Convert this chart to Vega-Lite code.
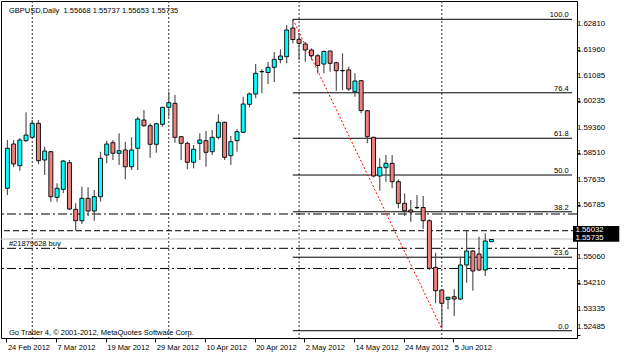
{
  "$schema": "https://vega.github.io/schema/vega-lite/v6.json",
  "width": 576,
  "height": 337,
  "autosize": "none",
  "padding": {"left": 1, "top": 1, "right": 48, "bottom": 15},
  "background": "white",
  "config": {
    "view": {"stroke": "black", "strokeWidth": 1},
    "axis": {"labelFont": "Liberation Sans", "labelFontSize": 7.5, "labelColor": "black", "tickColor": "black", "domain": false, "grid": false, "title": null, "labelOverlap": false, "labelBound": false, "labelFlush": false},
    "text": {"font": "Liberation Sans", "fontSize": 7.5, "color": "black"}
  },
  "datasets": {
    "candles": [
      {"i":0,"o":1.57347,"h":1.58953,"l":1.57124,"c":1.58677},
      {"i":1,"o":1.58820,"h":1.58953,"l":1.58045,"c":1.58155},
      {"i":2,"o":1.58099,"h":1.59010,"l":1.57932,"c":1.58953},
      {"i":3,"o":1.58930,"h":1.59874,"l":1.58897,"c":1.59119},
      {"i":4,"o":1.59043,"h":1.59618,"l":1.59020,"c":1.59508},
      {"i":5,"o":1.59508,"h":1.59618,"l":1.58155,"c":1.58265},
      {"i":6,"o":1.58288,"h":1.58730,"l":1.57789,"c":1.58587},
      {"i":7,"o":1.58564,"h":1.58587,"l":1.56902,"c":1.57068},
      {"i":8,"o":1.57048,"h":1.57513,"l":1.56902,"c":1.57347},
      {"i":9,"o":1.57314,"h":1.58288,"l":1.57181,"c":1.58255},
      {"i":10,"o":1.58198,"h":1.58288,"l":1.56626,"c":1.56659},
      {"i":11,"o":1.56649,"h":1.56848,"l":1.55937,"c":1.56270},
      {"i":12,"o":1.56270,"h":1.57400,"l":1.56160,"c":1.57015},
      {"i":13,"o":1.57015,"h":1.57380,"l":1.56426,"c":1.56592},
      {"i":14,"o":1.56592,"h":1.57291,"l":1.56270,"c":1.57068},
      {"i":15,"o":1.57068,"h":1.58564,"l":1.56902,"c":1.58345},
      {"i":16,"o":1.58454,"h":1.58930,"l":1.58178,"c":1.58820},
      {"i":17,"o":1.58863,"h":1.58953,"l":1.58288,"c":1.58511},
      {"i":18,"o":1.58511,"h":1.59176,"l":1.58122,"c":1.58597},
      {"i":19,"o":1.58621,"h":1.58897,"l":1.57646,"c":1.58065},
      {"i":20,"o":1.58065,"h":1.59043,"l":1.57956,"c":1.58621},
      {"i":21,"o":1.58677,"h":1.59728,"l":1.57956,"c":1.59651},
      {"i":22,"o":1.59618,"h":1.59951,"l":1.59395,"c":1.59429},
      {"i":23,"o":1.59429,"h":1.59508,"l":1.58365,"c":1.58810},
      {"i":24,"o":1.58810,"h":1.59528,"l":1.58531,"c":1.59495},
      {"i":25,"o":1.59475,"h":1.60060,"l":1.59395,"c":1.60040},
      {"i":26,"o":1.60040,"h":1.60559,"l":1.59728,"c":1.60193},
      {"i":27,"o":1.60173,"h":1.60449,"l":1.58863,"c":1.59043},
      {"i":28,"o":1.59063,"h":1.59086,"l":1.58288,"c":1.58843},
      {"i":29,"o":1.58843,"h":1.58897,"l":1.57979,"c":1.58212},
      {"i":30,"o":1.58212,"h":1.58787,"l":1.58012,"c":1.58644},
      {"i":31,"o":1.58843,"h":1.59176,"l":1.58288,"c":1.58953},
      {"i":32,"o":1.58930,"h":1.59252,"l":1.58065,"c":1.58544},
      {"i":33,"o":1.58564,"h":1.59286,"l":1.58454,"c":1.59043},
      {"i":34,"o":1.59043,"h":1.59808,"l":1.58976,"c":1.59542},
      {"i":35,"o":1.59542,"h":1.59562,"l":1.58288,"c":1.58378},
      {"i":36,"o":1.58431,"h":1.59086,"l":1.58122,"c":1.58897},
      {"i":37,"o":1.58930,"h":1.59309,"l":1.58564,"c":1.59229},
      {"i":38,"o":1.59209,"h":1.60393,"l":1.59196,"c":1.60150},
      {"i":39,"o":1.60140,"h":1.60539,"l":1.60040,"c":1.60483},
      {"i":40,"o":1.60483,"h":1.61480,"l":1.60340,"c":1.61171},
      {"i":41,"o":1.61224,"h":1.61304,"l":1.60506,"c":1.61228},
      {"i":42,"o":1.61197,"h":1.61547,"l":1.60815,"c":1.61370},
      {"i":43,"o":1.61370,"h":1.61879,"l":1.60882,"c":1.61636},
      {"i":44,"o":1.61630,"h":1.61969,"l":1.61503,"c":1.61746},
      {"i":45,"o":1.61723,"h":1.62777,"l":1.61503,"c":1.62611},
      {"i":46,"o":1.62677,"h":1.62966,"l":1.62168,"c":1.62295},
      {"i":47,"o":1.62301,"h":1.62501,"l":1.61613,"c":1.62168},
      {"i":48,"o":1.62145,"h":1.62212,"l":1.61557,"c":1.61946},
      {"i":49,"o":1.61946,"h":1.62002,"l":1.61613,"c":1.61756},
      {"i":50,"o":1.61756,"h":1.61803,"l":1.61171,"c":1.61430},
      {"i":51,"o":1.61480,"h":1.61929,"l":1.61171,"c":1.61896},
      {"i":52,"o":1.61912,"h":1.61922,"l":1.61224,"c":1.61503},
      {"i":53,"o":1.61523,"h":1.61557,"l":1.60592,"c":1.61257},
      {"i":54,"o":1.61257,"h":1.61836,"l":1.60616,"c":1.61261},
      {"i":55,"o":1.61281,"h":1.61390,"l":1.60592,"c":1.60649},
      {"i":56,"o":1.60559,"h":1.61171,"l":1.60393,"c":1.60915},
      {"i":57,"o":1.60925,"h":1.60948,"l":1.59841,"c":1.59934},
      {"i":58,"o":1.59927,"h":1.59951,"l":1.58843,"c":1.59063},
      {"i":59,"o":1.59043,"h":1.59063,"l":1.57713,"c":1.57756},
      {"i":60,"o":1.57756,"h":1.58345,"l":1.57267,"c":1.58045},
      {"i":61,"o":1.58032,"h":1.58454,"l":1.57567,"c":1.58178},
      {"i":62,"o":1.58178,"h":1.58454,"l":1.57347,"c":1.57567},
      {"i":63,"o":1.57567,"h":1.57646,"l":1.56682,"c":1.56848},
      {"i":64,"o":1.56848,"h":1.57181,"l":1.56426,"c":1.56602},
      {"i":65,"o":1.56626,"h":1.56958,"l":1.56237,"c":1.56559},
      {"i":66,"o":1.56702,"h":1.57124,"l":1.56659,"c":1.56706},
      {"i":67,"o":1.56709,"h":1.57091,"l":1.55994,"c":1.56270},
      {"i":68,"o":1.56270,"h":1.56316,"l":1.54631,"c":1.54687},
      {"i":69,"o":1.54720,"h":1.55206,"l":1.53523,"c":1.53942},
      {"i":70,"o":1.53966,"h":1.53989,"l":1.52692,"c":1.53523},
      {"i":71,"o":1.53656,"h":1.53743,"l":1.53324,"c":1.53723},
      {"i":72,"o":1.53743,"h":1.53989,"l":1.53101,"c":1.53666},
      {"i":73,"o":1.53666,"h":1.55073,"l":1.53633,"c":1.54797},
      {"i":74,"o":1.54797,"h":1.55937,"l":1.54208,"c":1.55262},
      {"i":75,"o":1.55262,"h":1.55296,"l":1.53942,"c":1.54597},
      {"i":76,"o":1.55163,"h":1.55738,"l":1.54607,"c":1.54631},
      {"i":77,"o":1.54631,"h":1.55851,"l":1.54431,"c":1.55595},
      {"i":78,"o":1.55572,"h":1.55661,"l":1.55572,"c":1.55645}
    ],
    "fib": [
      {"level":"100.0","p":1.62966},
      {"level":"76.4","p":1.60523},
      {"level":"61.8","p":1.59011},
      {"level":"50.0","p":1.57789},
      {"level":"38.2","p":1.56567},
      {"level":"23.6","p":1.55056},
      {"level":"0.0","p":1.52612}
    ],
    "hlines": [
      {"p":1.55661,"kind":"bid"},
      {"p":1.56493,"kind":"dashdot"},
      {"p":1.55937,"kind":"dash"},
      {"p":1.55352,"kind":"dashdot"},
      {"p":1.54680,"kind":"dashdot"}
    ],
    "yticks": [
      {"v":1.62810,"t":"1.62810"},
      {"v":1.61960,"t":"1.61960"},
      {"v":1.61085,"t":"1.61085"},
      {"v":1.60235,"t":"1.60235"},
      {"v":1.59360,"t":"1.59360"},
      {"v":1.58510,"t":"1.58510"},
      {"v":1.57635,"t":"1.57635"},
      {"v":1.56785,"t":"1.56785"},
      {"v":1.55060,"t":"1.55060"},
      {"v":1.54210,"t":"1.54210"},
      {"v":1.53335,"t":"1.53335"}
    ],
    "ylast": [{"v":1.52485,"t":"1.52485"}],
    "seps": [{"i":4},{"i":26},{"i":47},{"i":70}],
    "trend": [{"i":46,"p":1.62966},{"i":70,"p":1.52669}],
    "one": [{}]
  },
  "layer": [
    {
      "data": {"name": "seps"},
      "mark": {"type": "rule", "color": "#333333", "strokeDash": [2, 2], "strokeWidth": 1},
      "encoding": {
        "x": {"field": "i", "type": "quantitative", "scale": {"domain": [-0.228, 90.98], "nice": false, "zero": false},
          "axis": {"orient": "bottom", "values": [0, 8, 16, 24, 32, 40, 48, 56, 64, 72],
            "labelExpr": "['24 Feb 2012','7 Mar 2012','19 Mar 2012','29 Mar 2012','10 Apr 2012','20 Apr 2012','2 May 2012','14 May 2012','24 May 2012','5 Jun 2012'][round(datum.value/8)]",
            "labelAlign": "left", "labelBaseline": "top", "labelPadding": 1, "labelOffset": 1, "tickSize": 4, "tickOffset": -1, "labelOverlap": false}}
      }
    },
    {
      "data": {"name": "hlines"},
      "mark": {"type": "rule", "strokeWidth": 1},
      "encoding": {
        "y": {"field": "p", "type": "quantitative", "scale": {"domain": [1.52370, 1.63575], "nice": false, "zero": false},
          "axis": {"orient": "right", "values": [1.62810, 1.61960, 1.61085, 1.60235, 1.59360, 1.58510, 1.57635, 1.56785, 1.55060, 1.54210, 1.53335, 1.52485],
            "labels": false, "tickSize": 3}},
        "color": {"field": "kind", "type": "nominal", "legend": null, "scale": {"domain": ["bid", "dashdot", "dash"], "range": ["#c0c0c0", "#000000", "#000000"]}},
        "strokeDash": {"field": "kind", "type": "nominal", "legend": null, "scale": {"domain": ["bid", "dashdot", "dash"], "range": [[1, 0], [9, 3, 2, 3], [6, 3]]}}
      }
    },
    {
      "data": {"name": "yticks"},
      "mark": {"type": "text", "align": "left", "baseline": "middle", "fontSize": 7.8},
      "encoding": {
        "x": {"datum": 91.77, "type": "quantitative", "scale": {"domain": [-0.228, 90.98], "nice": false, "zero": false}},
        "y": {"field": "v", "type": "quantitative", "scale": {"domain": [1.52370, 1.63575], "nice": false, "zero": false}},
        "text": {"field": "t"}
      }
    },
    {
      "data": {"name": "ylast"},
      "mark": {"type": "text", "align": "left", "baseline": "middle", "fontSize": 7.8, "dy": -8},
      "encoding": {
        "x": {"datum": 91.77, "type": "quantitative", "scale": {"domain": [-0.228, 90.98], "nice": false, "zero": false}},
        "y": {"field": "v", "type": "quantitative", "scale": {"domain": [1.52370, 1.63575], "nice": false, "zero": false}},
        "text": {"field": "t"}
      }
    },
    {
      "data": {"name": "fib"},
      "mark": {"type": "rule", "color": "black", "strokeWidth": 1},
      "encoding": {
        "x": {"datum": 46, "type": "quantitative", "scale": {"domain": [-0.228, 90.98], "nice": false, "zero": false}},
        "x2": {"datum": 90.98},
        "y": {"field": "p", "type": "quantitative", "scale": {"domain": [1.52370, 1.63575], "nice": false, "zero": false}}
      }
    },
    {
      "data": {"name": "fib"},
      "mark": {"type": "text", "align": "right", "baseline": "alphabetic", "dy": -2},
      "encoding": {
        "x": {"datum": 90.43, "type": "quantitative", "scale": {"domain": [-0.228, 90.98], "nice": false, "zero": false}},
        "y": {"field": "p", "type": "quantitative", "scale": {"domain": [1.52370, 1.63575], "nice": false, "zero": false}},
        "text": {"field": "level"}
      }
    },
    {
      "data": {"name": "trend"},
      "mark": {"type": "line", "color": "#ff0000", "strokeDash": [2, 2], "strokeWidth": 1},
      "encoding": {
        "x": {"field": "i", "type": "quantitative", "scale": {"domain": [-0.228, 90.98], "nice": false, "zero": false}},
        "y": {"field": "p", "type": "quantitative", "scale": {"domain": [1.52370, 1.63575], "nice": false, "zero": false}}
      }
    },
    {
      "data": {"name": "candles"},
      "mark": {"type": "rule", "color": "#555555", "strokeWidth": 1.2},
      "encoding": {
        "x": {"field": "i", "type": "quantitative", "scale": {"domain": [-0.228, 90.98], "nice": false, "zero": false}},
        "y": {"field": "l", "type": "quantitative", "scale": {"domain": [1.52370, 1.63575], "nice": false, "zero": false}},
        "y2": {"field": "h"}
      }
    },
    {
      "data": {"name": "candles"},
      "mark": {"type": "bar", "width": 4, "stroke": "black", "strokeWidth": 0.9},
      "encoding": {
        "x": {"field": "i", "type": "quantitative", "scale": {"domain": [-0.228, 90.98], "nice": false, "zero": false}},
        "y": {"field": "o", "type": "quantitative", "scale": {"domain": [1.52370, 1.63575], "nice": false, "zero": false}},
        "y2": {"field": "c"},
        "fill": {"condition": {"test": "datum.c >= datum.o", "value": "#00ffff"}, "value": "#f08080"}
      }
    },
    {
      "data": {"name": "one"},
      "mark": {"type": "text", "align": "left", "baseline": "alphabetic", "text": "GBPUSD,Daily\u00a0 1.55668 1.55737 1.55653 1.55735"},
      "encoding": {
        "x": {"datum": 0.247, "type": "quantitative", "scale": {"domain": [-0.228, 90.98], "nice": false, "zero": false}},
        "y": {"datum": 1.63192, "type": "quantitative", "scale": {"domain": [1.52370, 1.63575], "nice": false, "zero": false}}
      }
    },
    {
      "data": {"name": "one"},
      "mark": {"type": "text", "align": "left", "baseline": "alphabetic", "text": "Go Trader 4, © 2001-2012, MetaQuotes Software Corp."},
      "encoding": {
        "x": {"datum": 0.247, "type": "quantitative", "scale": {"domain": [-0.228, 90.98], "nice": false, "zero": false}},
        "y": {"datum": 1.52469, "type": "quantitative", "scale": {"domain": [1.52370, 1.63575], "nice": false, "zero": false}}
      }
    },
    {
      "data": {"name": "one"},
      "mark": {"type": "text", "align": "left", "baseline": "alphabetic", "text": "#21879628 buy"},
      "encoding": {
        "x": {"datum": 0.247, "type": "quantitative", "scale": {"domain": [-0.228, 90.98], "nice": false, "zero": false}},
        "y": {"datum": 1.55428, "type": "quantitative", "scale": {"domain": [1.52370, 1.63575], "nice": false, "zero": false}}
      }
    },
    {
      "data": {"name": "one"},
      "mark": {"type": "rect", "color": "black"},
      "encoding": {
        "x": {"datum": 91.14, "type": "quantitative", "scale": {"domain": [-0.228, 90.98], "nice": false, "zero": false}},
        "x2": {"datum": 98.6},
        "y": {"datum": 1.56094, "type": "quantitative", "scale": {"domain": [1.52370, 1.63575], "nice": false, "zero": false}},
        "y2": {"datum": 1.55572}
      }
    },
    {
      "data": {"name": "one"},
      "mark": {"type": "text", "align": "left", "baseline": "middle", "color": "white", "fontSize": 7.8, "text": "1.56032"},
      "encoding": {
        "x": {"datum": 91.54, "type": "quantitative", "scale": {"domain": [-0.228, 90.98], "nice": false, "zero": false}},
        "y": {"datum": 1.55971, "type": "quantitative", "scale": {"domain": [1.52370, 1.63575], "nice": false, "zero": false}}
      }
    },
    {
      "data": {"name": "one"},
      "mark": {"type": "text", "align": "left", "baseline": "middle", "color": "white", "fontSize": 7.8, "text": "1.55735"},
      "encoding": {
        "x": {"datum": 91.54, "type": "quantitative", "scale": {"domain": [-0.228, 90.98], "nice": false, "zero": false}},
        "y": {"datum": 1.55711, "type": "quantitative", "scale": {"domain": [1.52370, 1.63575], "nice": false, "zero": false}}
      }
    }
  ]
}
